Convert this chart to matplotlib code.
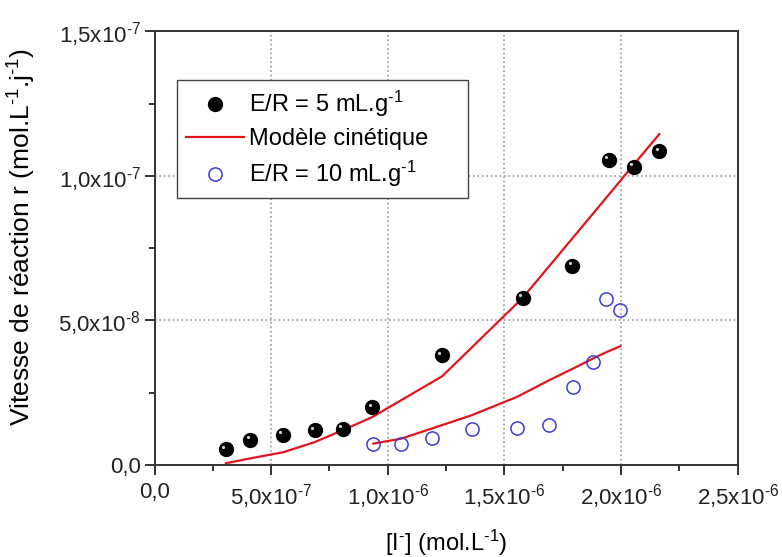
import matplotlib
matplotlib.use("Agg")
import matplotlib.pyplot as plt
from matplotlib.ticker import MultipleLocator, FixedLocator, FixedFormatter
from matplotlib.transforms import offset_copy

plt.rcParams['font.family'] = ['Liberation Sans', 'DejaVu Sans']
plt.rcParams['mathtext.fontset'] = 'custom'
plt.rcParams['mathtext.rm'] = 'Liberation Sans'
plt.rcParams['mathtext.it'] = 'Liberation Sans'

# E/R = 5 mL/g : experimental points and kinetic model
x_er5 = [0.306e-6, 0.411e-6, 0.551e-6, 0.686e-6, 0.806e-6, 0.934e-6,
         1.233e-6, 1.578e-6, 1.791e-6, 1.948e-6, 2.056e-6, 2.164e-6]
r_er5 = [0.54e-8, 0.88e-8, 1.05e-8, 1.20e-8, 1.24e-8, 1.99e-8,
         3.79e-8, 5.79e-8, 6.89e-8, 10.55e-8, 10.32e-8, 10.85e-8]
model_er5 = [0.06e-8, 0.23e-8, 0.44e-8, 0.79e-8, 1.20e-8, 1.66e-8,
             3.07e-8, 5.78e-8, 7.84e-8, 9.36e-8, 10.41e-8, 11.45e-8]

# E/R = 10 mL/g
x_er10 = [0.938e-6, 1.057e-6, 1.188e-6, 1.359e-6, 1.552e-6, 1.691e-6,
          1.795e-6, 1.881e-6, 1.936e-6, 1.997e-6]
r_er10 = [0.74e-8, 0.71e-8, 0.94e-8, 1.23e-8, 1.29e-8, 1.38e-8,
          2.70e-8, 3.57e-8, 5.74e-8, 5.35e-8]
model_er10 = [0.74e-8, 0.91e-8, 1.26e-8, 1.72e-8, 2.35e-8, 2.93e-8,
              3.34e-8, 3.69e-8, 3.90e-8, 4.11e-8]

x_ticks = [0, 0.5e-6, 1.0e-6, 1.5e-6, 2.0e-6, 2.5e-6]
x_labels = ['0,0', r'5,0x10$^{\text{-7}}$', r'1,0x10$^{\text{-6}}$',
            r'1,5x10$^{\text{-6}}$', r'2,0x10$^{\text{-6}}$',
            r'2,5x10$^{\text{-6}}$']
y_ticks = [0, 5e-8, 1.0e-7, 1.5e-7]
y_labels = ['0,0', r'5,0x10$^{\text{-8}}$', r'1,0x10$^{\text{-7}}$',
            r'1,5x10$^{\text{-7}}$']

red = '#e3141c'
blue = '#3c3cd2'

fig = plt.figure(figsize=(7.82, 5.57), dpi=100)
ax = fig.add_axes([0.1976, 0.1652, 0.7458, 0.7783])

ax.plot(x_er5, model_er5, color=red, lw=1.6, zorder=2, label='Modèle cinétique')
ax.plot(x_er10, model_er10, color=red, lw=1.6, zorder=2)
ax.plot(x_er5, r_er5, 'o', color='black', ms=10, zorder=3,
        label=r'E/R = 5 mL.g$^{\text{-1}}$')
# small highlight to give the black points their shaded look
hl = offset_copy(ax.transData, fig=fig, x=-2.0, y=2.0, units='points')
ax.plot(x_er5, r_er5, 'o', color='#d0d0d0', ms=2.3, mec='none', zorder=4,
        transform=hl)
ax.plot(x_er10, r_er10, 'o', mfc='none', mec=blue, mew=1.1, ms=9.5, zorder=3,
        label=r'E/R = 10 mL.g$^{\text{-1}}$')

ax.set_xlim(0, 2.5e-6)
ax.set_ylim(0, 1.5e-7)
ax.xaxis.set_major_locator(FixedLocator(x_ticks))
ax.xaxis.set_major_formatter(FixedFormatter(x_labels))
ax.yaxis.set_major_locator(FixedLocator(y_ticks))
ax.yaxis.set_major_formatter(FixedFormatter(y_labels))
ax.xaxis.set_minor_locator(MultipleLocator(0.25e-6))
ax.yaxis.set_minor_locator(MultipleLocator(2.5e-8))
ax.tick_params(which='major', direction='out', length=7, width=1.3,
               labelsize=16, colors='#222222')
ax.tick_params(axis='x', which='major', pad=5)
ax.tick_params(axis='y', which='major', pad=3)
ax.tick_params(which='minor', direction='out', length=4.5, width=1.3,
               colors='#222222')
for s in ax.spines.values():
    s.set_linewidth(1.4)
    s.set_color('#333333')
ax.grid(True, which='major', linestyle=':', color='#999999', lw=1.2)
ax.set_axisbelow(True)

ax.set_xlabel(r'[I$^{\text{-}}$] (mol.L$^{\text{-1}}$)', fontsize=17)
ax.set_ylabel(r'Vitesse de réaction r (mol.L$^{\text{-1}}$.j$^{\text{-1}}$)',
              fontsize=19)
ax.xaxis.set_label_coords(0.5, -0.145)
ax.yaxis.set_label_coords(-0.2, 0.525)

handles, labels = ax.get_legend_handles_labels()
order = [1, 0, 2]
# legend frame spans 177..468 px horizontally in the reference
leg = ax.legend([handles[i] for i in order], [labels[i] for i in order],
                loc='upper left', bbox_to_anchor=(0.0386, 0.888, 0.499, 0.0),
                mode='expand', borderaxespad=0, fontsize=17, frameon=True,
                fancybox=False, framealpha=1, edgecolor='#444444',
                handlelength=2.45, handletextpad=0.2, labelspacing=0.38,
                borderpad=0.38)
leg.get_frame().set_linewidth(1.0)

fig.savefig('out.png', dpi=100)
